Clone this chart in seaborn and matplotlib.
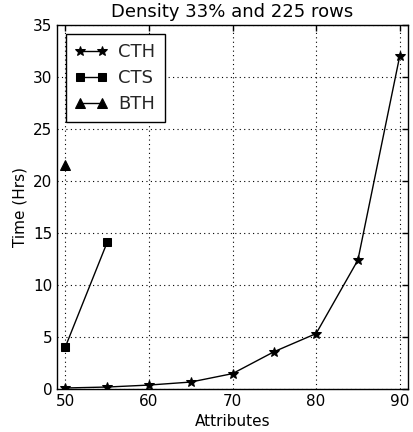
import matplotlib
matplotlib.use("Agg")
import matplotlib.pyplot as plt
import seaborn as sns
import pandas as pd

cth_x = [50, 55, 60, 65, 70, 75, 80, 85, 90]
cth_y = [0.1, 0.19, 0.38, 0.67, 1.48, 3.6, 5.33, 12.4, 32.0]
cts_x = [50, 55]
cts_y = [4.05, 14.1]
bth_x = [50]
bth_y = [21.55]

sns.set_style("white")
plt.rcParams['font.family'] = ['DejaVu Sans']

fig = plt.figure(figsize=(4.13, 4.32), dpi=100)
ax = fig.add_axes([0.138, 0.0995, 0.850, 0.8425])

series = [("CTH", cth_x, cth_y, "*", 7.5), ("CTS", cts_x, cts_y, "s", 6), ("BTH", bth_x, bth_y, "^", 6.5)]
for name, xs, ys, m, ms in series:
    df = pd.DataFrame({"Attributes": xs, "Time": ys})
    sns.lineplot(data=df, x="Attributes", y="Time", ax=ax, color="black", marker=m,
                 markersize=ms, markeredgecolor="black", linewidth=1, label=name)

ax.set_xlim(49, 91)
ax.set_ylim(0, 35)
ax.set_xticks([50, 60, 70, 80, 90])
ax.set_yticks([0, 5, 10, 15, 20, 25, 30, 35])
ax.grid(True, color="black", linestyle=(0, (1, 3)), linewidth=0.8)
ax.tick_params(direction="in", length=4, width=1, labelsize=11, colors="black", top=True, right=True)
for s in ax.spines.values():
    s.set_color("black")
    s.set_linewidth(1)
ax.set_xlabel("Attributes", fontsize=11, color="black")
ax.set_ylabel("Time (Hrs)", fontsize=11, color="black")
ax.set_title("Density 33% and 225 rows", fontsize=13, color="black")
leg = ax.legend(loc="upper left", fontsize=13, fancybox=False, frameon=True, numpoints=2,
                edgecolor="black", framealpha=1, handlelength=1.8, handletextpad=0.6,
                borderpad=0.5, labelspacing=0.45, borderaxespad=0.5)
leg.get_frame().set_linewidth(1)
fig.savefig("out.png", dpi=100)
